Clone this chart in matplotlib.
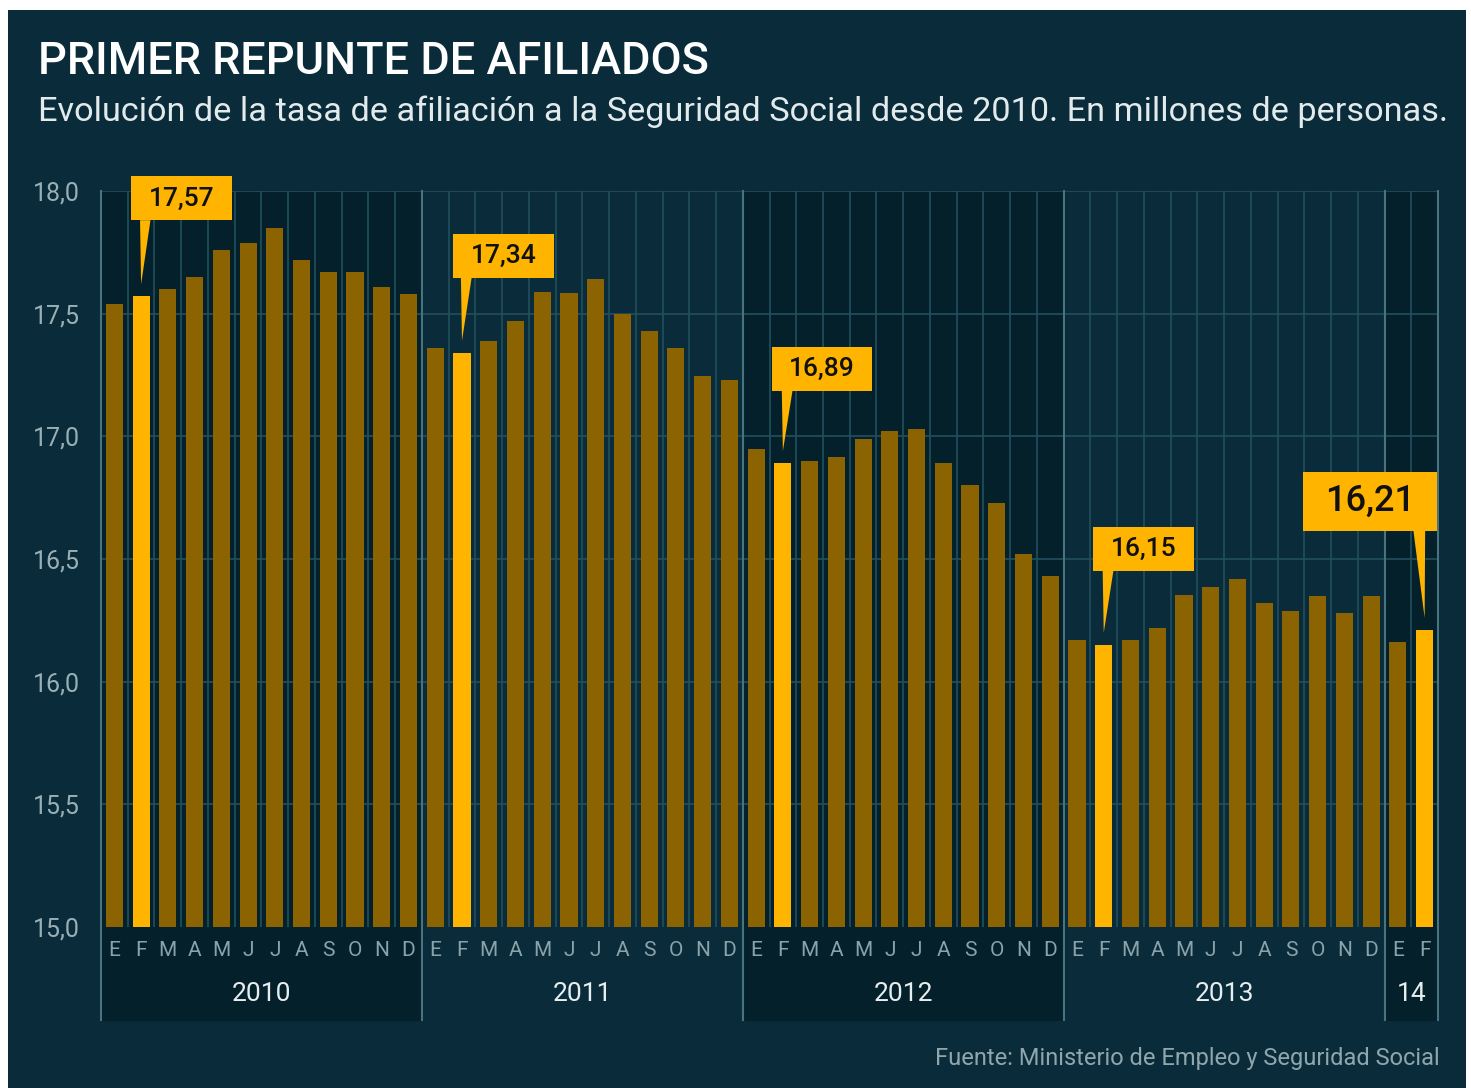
import numpy as np
import matplotlib.pyplot as plt
from matplotlib.patches import Rectangle, Polygon

# datos (millones de afiliados)
meses = ['E', 'F', 'M', 'A', 'M', 'J', 'J', 'A', 'S', 'O', 'N', 'D']
anios = ['2010', '2011', '2012', '2013', '14']
meses_por_anio = [12, 12, 12, 12, 2]

afiliados_2010 = [17.54, 17.57, 17.60, 17.65, 17.76, 17.79, 17.85, 17.72, 17.67, 17.67, 17.61, 17.58]
afiliados_2011 = [17.36, 17.34, 17.39, 17.47, 17.59, 17.585, 17.64, 17.50, 17.43, 17.36, 17.245, 17.23]
afiliados_2012 = [16.95, 16.89, 16.90, 16.915, 16.99, 17.02, 17.03, 16.89, 16.80, 16.73, 16.52, 16.43]
afiliados_2013 = [16.17, 16.15, 16.17, 16.22, 16.355, 16.385, 16.42, 16.32, 16.29, 16.35, 16.28, 16.35]
afiliados_2014 = [16.16, 16.21]

destacados = [1, 13, 25, 37, 49]
etiquetas = ['17,57', '17,34', '16,89', '16,15', '16,21']

yticks = [15.0, 15.5, 16.0, 16.5, 17.0, 17.5, 18.0]
ytick_labels = ['15,0', '15,5', '16,0', '16,5', '17,0', '17,5', '18,0']

afiliados = np.array(afiliados_2010 + afiliados_2011 + afiliados_2012 + afiliados_2013 + afiliados_2014)
n = len(afiliados)
x = np.arange(n)

# colores
fondo = '#0a2c3a'
banda = '#04202b'
ocre = '#8b6300'
amarillo = '#ffb400'
rejilla = '#22505e'
linea_anio = '#4a7380'
gris = '#98afb5'

fuente = ['Roboto', 'DejaVu Sans']

W, H = 1471, 1088
fig = plt.figure(figsize=(W / 100, H / 100), dpi=100, facecolor='white')
fig.patches.append(Rectangle((8 / W, 0), (1466 - 8) / W, (H - 10) / H,
                             transform=fig.transFigure, facecolor=fondo, edgecolor='none', zorder=-10))

ax_top, ax_bot = 191, 927
ax = fig.add_axes([101 / W, 1 - ax_bot / H, (1438 - 101) / W, (ax_bot - ax_top) / H])
ax.set_zorder(1)
ax.set_facecolor(fondo)
ax.set_xlim(-0.5, n - 0.5)
ax.set_ylim(15.0, 18.0)
for s in ax.spines.values():
    s.set_visible(False)

abajo = -(1020 - ax_bot) / (ax_bot - ax_top)

# bandas de año
inicio = 0
limites = [-0.5]
for i, m in enumerate(meses_por_anio):
    fin = inicio + m
    if i % 2 == 0:
        ax.axvspan(inicio - 0.5, fin - 0.5, ymin=abajo, ymax=1, color=banda, clip_on=False, zorder=0)
    ax.text((inicio + fin - 1) / 2, -(994 - ax_bot) / (ax_bot - ax_top), anios[i],
            transform=ax.get_xaxis_transform(), ha='center', va='center',
            fontsize=19, color='#e6eef0', family=fuente)
    limites.append(fin - 0.5)
    inicio = fin

# rejilla
for xi in np.arange(-0.5, n, 1.0):
    ax.axvline(xi, color=rejilla, lw=1.2, zorder=1)
for yv in yticks[1:]:
    ax.axhline(yv, color=rejilla, lw=1.2, zorder=1)
for xl in limites:
    ax.axvline(xl, ymin=abajo, ymax=1, color=linea_anio, lw=1.5, clip_on=False, zorder=2)

colores = [amarillo if i in destacados else ocre for i in range(n)]
ax.bar(x, afiliados - 15.0, bottom=15.0, width=0.64, color=colores, zorder=3)

# meses
etiq_meses = [meses[j] for m in meses_por_anio for j in range(m)]
for i, lab in enumerate(etiq_meses):
    ax.text(i, -(950 - ax_bot) / (ax_bot - ax_top), lab, transform=ax.get_xaxis_transform(),
            ha='center', va='center', fontsize=15, color='#8aa2a9', family=fuente)

ax.set_xticks([])
ax.set_yticks(yticks)
ax.set_yticklabels(ytick_labels, family=fuente, fontsize=18, color=gris)
ax.tick_params(axis='y', length=0, pad=15)

# bocadillos: (desplaz. caja, ancho, separación, alto, tamaño, base cola)
estilo = [(-0.38, 3.78, 0.31, 0.18, 19, (-0.04, 0.35)),
          (-0.35, 3.79, 0.305, 0.18, 19, (-0.04, 0.36)),
          (-0.42, 3.76, 0.295, 0.18, 19, (-0.04, 0.36)),
          (-0.41, 3.78, 0.30, 0.18, 19, (-0.04, 0.36)),
          (-4.56, 5.01, 0.405, 0.24, 26, (-0.42, 0.02))]
for idx, lab, (dx, w, gap, h, fs, (t0, t1)) in zip(destacados, etiquetas, estilo):
    v = afiliados[idx]
    base = v + gap
    ax.add_patch(Rectangle((idx + dx, base), w, h, facecolor=amarillo, edgecolor='none',
                           zorder=5, clip_on=False))
    ax.add_patch(Polygon([(idx + t0, base + 0.001), (idx + t1, base + 0.001), (idx, v + 0.05)],
                         closed=True, facecolor=amarillo, edgecolor='none', zorder=5, clip_on=False))
    ax.text(idx + dx + w / 2, base + h / 2, lab, ha='center', va='center', fontsize=fs,
            fontweight='medium', color='#111111', family=fuente, zorder=6, clip_on=False)

# títulos
fig.text(38 / W, 1 - 62 / H, 'PRIMER REPUNTE DE AFILIADOS', ha='left', va='center',
         fontsize=32.5, fontweight='medium', color='white', family=fuente)
fig.text(38 / W, 1 - 112 / H,
         'Evolución de la tasa de afiliación a la Seguridad Social desde 2010. En millones de personas.',
         ha='left', va='center', fontsize=24.7, color='#e2eaec', family=fuente)
fig.text(1440 / W, 1 - 1058 / H, 'Fuente: Ministerio de Empleo y Seguridad Social',
         ha='right', va='center', fontsize=17, color='#8fa6ad', family=fuente)

fig.savefig('out.png', dpi=100, facecolor='white')
